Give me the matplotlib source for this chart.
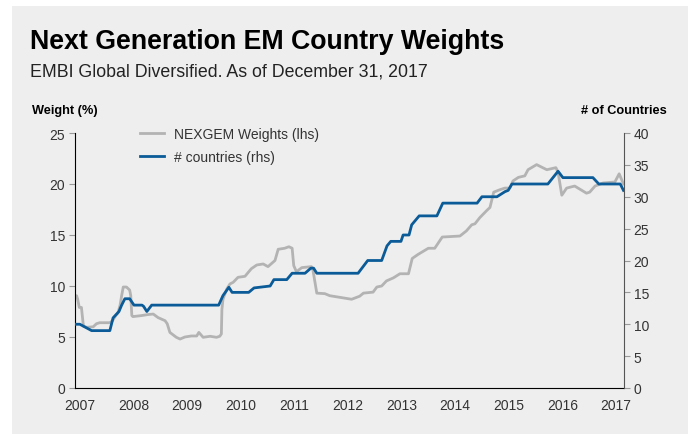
import matplotlib
matplotlib.use("Agg")
import matplotlib.pyplot as plt
from matplotlib.patches import Rectangle

plt.rcParams['font.family'] = ['Liberation Sans', 'DejaVu Sans']

# NEXGEM weights (lhs, %) -- decimal years
w_year = [2006.91, 2006.94, 2006.96, 2006.99, 2007.03, 2007.06, 2007.07, 2007.13, 2007.25,
          2007.31, 2007.37, 2007.56, 2007.61, 2007.67, 2007.71, 2007.75, 2007.78, 2007.81,
          2007.87, 2007.93, 2007.95, 2007.97, 2007.99, 2008.15, 2008.27, 2008.37, 2008.46,
          2008.59, 2008.63, 2008.68, 2008.80, 2008.87, 2008.96, 2009.08, 2009.18, 2009.22,
          2009.30, 2009.43, 2009.55, 2009.61, 2009.64, 2009.65, 2009.67, 2009.74, 2009.80,
          2009.86, 2009.95, 2010.08, 2010.20, 2010.30, 2010.42, 2010.51, 2010.64, 2010.70,
          2010.82, 2010.90, 2010.96, 2010.99, 2011.04, 2011.14, 2011.32, 2011.35, 2011.42,
          2011.57, 2011.66, 2012.07, 2012.22, 2012.29, 2012.47, 2012.54, 2012.63, 2012.72,
          2012.85, 2012.97, 2013.13, 2013.20, 2013.31, 2013.50, 2013.62, 2013.76, 2014.09,
          2014.21, 2014.31, 2014.37, 2014.46, 2014.59, 2014.65, 2014.72, 2014.84, 2014.93,
          2015.02, 2015.08, 2015.18, 2015.30, 2015.36, 2015.52, 2015.71, 2015.88, 2015.92,
          2015.99, 2016.08, 2016.23, 2016.45, 2016.51, 2016.61, 2016.76, 2016.98, 2017.06,
          2017.14]
weights = [9.05, 9.05, 8.7, 7.9, 7.9, 6.4, 6.05, 5.95, 6.0,
           6.3, 6.4, 6.4, 6.6, 7.1, 7.35, 8.1, 9.05, 9.9,
           9.9, 9.6, 9.05, 7.1, 7.0, 7.1, 7.2, 7.25, 6.9,
           6.6, 6.3, 5.45, 4.97, 4.8, 5.0, 5.1, 5.1, 5.45,
           4.97, 5.07, 4.97, 5.07, 5.3, 7.7, 8.7, 9.7, 10.2,
           10.36, 10.85, 10.95, 11.7, 12.06, 12.16, 11.9, 12.5, 13.6,
           13.7, 13.85, 13.7, 12.0, 11.4, 11.8, 11.9, 11.5, 9.3,
           9.25, 9.05, 8.7, 9.0, 9.3, 9.4, 9.9, 10.0, 10.5,
           10.8, 11.2, 11.2, 12.7, 13.1, 13.7, 13.7, 14.8, 14.9,
           15.4, 16.0, 16.1, 16.7, 17.4, 17.7, 19.2, 19.45, 19.6,
           19.6, 20.3, 20.65, 20.8, 21.4, 21.9, 21.4, 21.6, 21.15,
           18.9, 19.6, 19.8, 19.1, 19.2, 19.8, 20.1, 20.2, 21.0,
           20.0]

# number of countries (rhs)
c_year = [2006.91, 2007.0, 2007.22, 2007.56, 2007.62, 2007.73, 2007.78, 2007.84, 2007.93,
          2008.01, 2008.16, 2008.19, 2008.25, 2008.34, 2009.59, 2009.67, 2009.78, 2009.84,
          2010.15, 2010.25, 2010.55, 2010.62, 2010.86, 2010.96, 2011.20, 2011.31, 2011.36,
          2011.42, 2012.19, 2012.37, 2012.63, 2012.73, 2012.80, 2012.99, 2013.03, 2013.14,
          2013.19, 2013.33, 2013.66, 2013.77, 2014.41, 2014.50, 2014.78, 2014.93, 2014.99,
          2015.06, 2015.73, 2015.92, 2016.01, 2016.57, 2016.68, 2017.08, 2017.14]
countries = [10, 10, 9, 9, 11, 12, 13, 14, 14,
             13, 13, 12.8, 12, 13, 13, 14.5, 15.8, 15,
             15, 15.7, 16, 17, 17, 18, 18, 18.8, 18.8,
             18, 18, 20, 20, 22.3, 23, 23, 24, 24,
             25.6, 27, 27, 29, 29, 30, 30, 30.8, 31,
             32, 32, 34, 33, 33, 32, 32, 31]

year_ticks = list(range(2007, 2018))

gray = '#b3b3b3'
blue = '#0a5b98'
txt = '#333333'
bg = '#eeeeee'

fig = plt.figure(figsize=(6.88, 4.35), dpi=100, facecolor=bg)
# white strips at top and left edge of the panel
fig.patches.append(Rectangle((0, 1 - 7 / 435), 1, 7 / 435, transform=fig.transFigure,
                             facecolor='white', edgecolor='none', zorder=-5))
fig.patches.append(Rectangle((0, 0), 12 / 688, 1, transform=fig.transFigure,
                             facecolor='white', edgecolor='none', zorder=-5))

ax = fig.add_axes([75 / 688, 1 - 389 / 435, (624 - 75) / 688, (389 - 134) / 435])
ax.set_facecolor(bg)
ax2 = ax.twinx()

l1, = ax.plot(w_year, weights, color=gray, lw=2.0, label='NEXGEM Weights (lhs)')
l2, = ax2.plot(c_year, countries, color=blue, lw=2.0, label='# countries (rhs)')

ax.set_xlim(2006.91, 2017.15)
ax.set_ylim(0, 25)
ax2.set_ylim(0, 40)
ax.set_yticks(range(0, 26, 5))
ax2.set_yticks(range(0, 41, 5))
ax.set_xticks(year_ticks)
ax.set_xticklabels([str(y) for y in year_ticks])

ax.tick_params(axis='x', length=0, pad=7, labelsize=10, colors=txt)
ax.tick_params(axis='y', length=4, width=0.8, color='#999999', pad=3, labelsize=10, labelcolor=txt)
ax2.tick_params(axis='y', length=4, width=0.8, color='#999999', pad=3, labelsize=10, labelcolor=txt)

for a in (ax, ax2):
    a.spines['top'].set_visible(False)
ax.spines['left'].set_color('black')
ax.spines['bottom'].set_color('black')
ax.spines['right'].set_visible(False)
ax2.spines['left'].set_visible(False)
ax2.spines['bottom'].set_visible(False)
ax2.spines['right'].set_color('#555555')

leg = ax.legend([l1, l2], [l1.get_label(), l2.get_label()], loc='upper left',
                bbox_to_anchor=(140 / 688, 1 - 128 / 435), bbox_transform=fig.transFigure,
                frameon=False, fontsize=10, handlelength=1.7, handletextpad=0.75,
                labelspacing=0.65, borderpad=0, borderaxespad=0)
for t in leg.get_texts():
    t.set_color(txt)

fig.text(30 / 688, 1 - 42 / 435, 'Next Generation EM Country Weights', fontsize=19.3,
         fontweight='bold', color='black', va='center', ha='left')
fig.text(30 / 688, 1 - 72 / 435, 'EMBI Global Diversified. As of December 31, 2017',
         fontsize=12.8, color='#222222', va='center', ha='left')
fig.text(32 / 688, 1 - 111 / 435, 'Weight (%)', fontsize=9.2, fontweight='bold',
         color='black', va='center', ha='left')
fig.text(667 / 688, 1 - 111 / 435, '# of Countries', fontsize=9.2, fontweight='bold',
         color='black', va='center', ha='right')

fig.savefig('out.png', dpi=100, facecolor=fig.get_facecolor())
